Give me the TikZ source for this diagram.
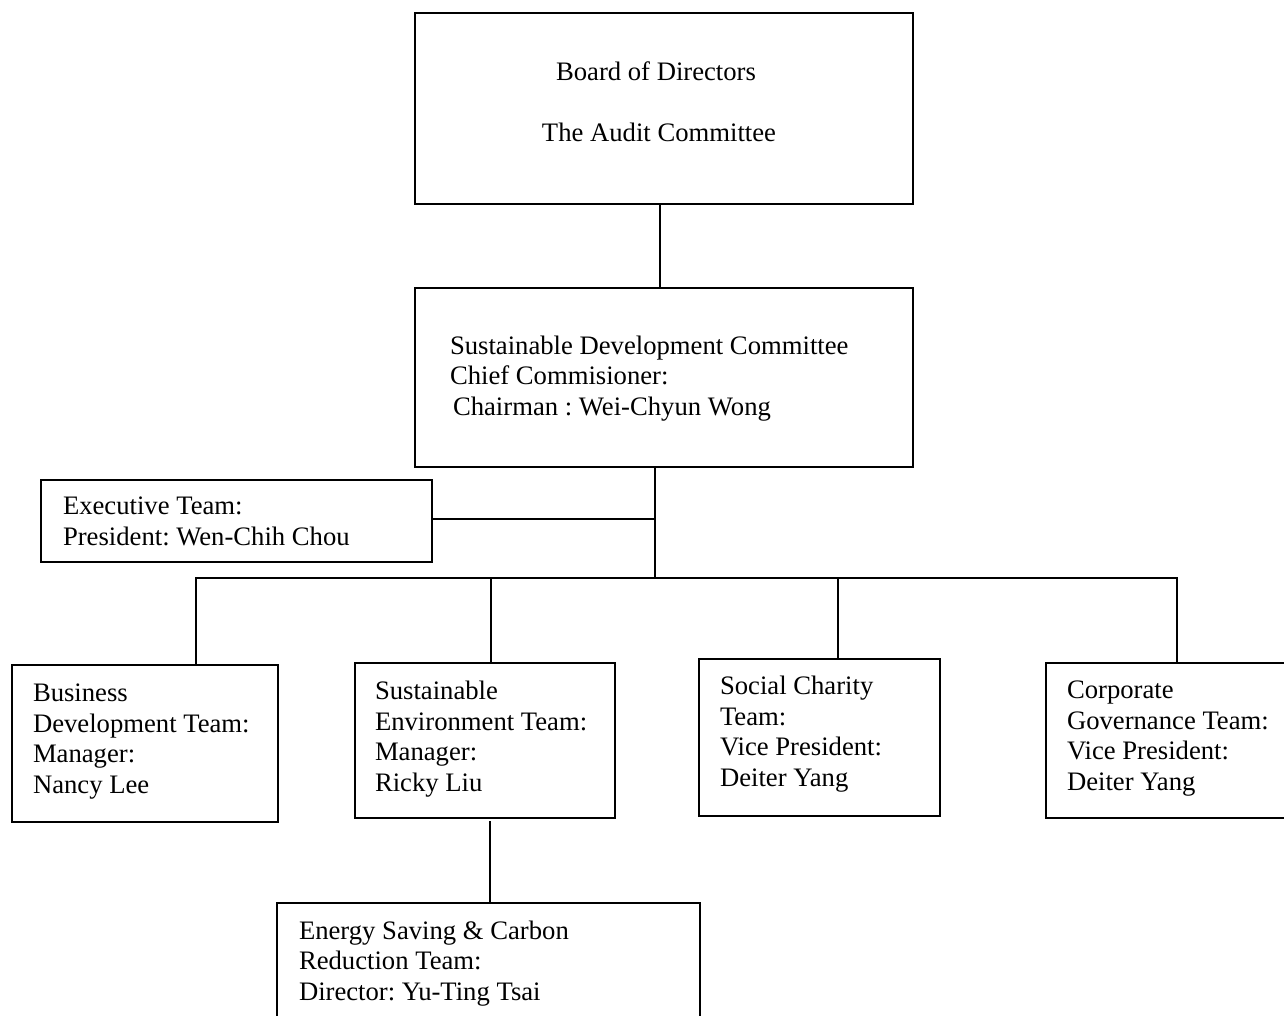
\documentclass[tikz,border=0pt]{standalone}
\usepackage{fontspec}
\setmainfont{Liberation Serif}
\frenchspacing
\begin{document}
\begin{tikzpicture}[x=0.75pt,y=-0.75pt,
  box/.style={draw=black,line width=1.1pt,rectangle,inner sep=0pt,outer sep=0pt},
  txt/.style={inner sep=0pt,outer sep=0pt,align=left,anchor=base west,font=\fontsize{20}{22.8}\selectfont},
  ctxt/.style={inner sep=0pt,outer sep=0pt,align=center,anchor=base,font=\fontsize{20}{22.8}\selectfont},
  link/.style={draw=black,line width=1.1pt}]
\useasboundingbox (0,0) rectangle (1284,1015);
\clip (0,0) rectangle (1284,1015);
% boxes
\node[box,minimum width=498*0.75pt,minimum height=191*0.75pt,anchor=north west] (board) at (415,13) {};
\node[box,minimum width=498*0.75pt,minimum height=179*0.75pt,anchor=north west] (sdc) at (415,288) {};
\node[box,minimum width=391*0.75pt,minimum height=82*0.75pt,anchor=north west] (exec) at (41,480) {};
\node[box,minimum width=266*0.75pt,minimum height=157*0.75pt,anchor=north west] (bus) at (12,665) {};
\node[box,minimum width=260*0.75pt,minimum height=155*0.75pt,anchor=north west] (env) at (355,663) {};
\node[box,minimum width=241*0.75pt,minimum height=157*0.75pt,anchor=north west] (soc) at (699,659) {};
\node[box,minimum width=250*0.75pt,minimum height=155*0.75pt,anchor=north west] (corp) at (1046,663) {};
\node[box,minimum width=423*0.75pt,minimum height=130*0.75pt,anchor=north west] (energy) at (277,903) {};
% texts (anchored at the baseline of the last line)
\node[ctxt] (tboard1) at (656,80) {Board of Directors};
\node[ctxt] (tboard2) at (659,141) {The Audit Committee};
\node[txt] (tsdc) at (450,415) {Sustainable Development Committee\\Chief Commisioner:\\\hspace{2.25pt}Chairman : Wei-Chyun Wong};
\node[txt] (texec) at (63,545) {Executive Team:\\President: Wen-Chih Chou};
\node[txt] (tbus) at (33,793) {Business\\Development Team:\\Manager:\\Nancy Lee};
\node[txt] (tenv) at (375,791) {Sustainable\\Environment Team:\\Manager:\\Ricky Liu};
\node[txt] (tsoc) at (720,786) {Social Charity\\Team:\\Vice President:\\Deiter Yang};
\node[txt] (tcorp) at (1067,790) {Corporate\\Governance Team:\\Vice President:\\Deiter Yang};
\node[txt] (tenergy) at (299,1000) {Energy Saving \& Carbon\\Reduction Team:\\Director: Yu-Ting Tsai};
% connectors
\coordinate (j1) at (655,519);
\coordinate (j2) at (655,578);
\draw[link] (board.south -| 660,0) -- (sdc.north -| 660,0);
\draw[link] (sdc.south -| j1) -- (j2);
\draw[link] (exec.east |- j1) -- (j1);
\draw[link] (bus.north -| 196,0) |- (j2) -| (corp.north -| 1177,0);
\draw[link] (j2 -| 491,0) -- (env.north -| 491,0);
\draw[link] (j2 -| 838,0) -- (soc.north -| 838,0);
\draw[link] (490,821) -- (energy.north -| 490,0);
\end{tikzpicture}
\end{document}
